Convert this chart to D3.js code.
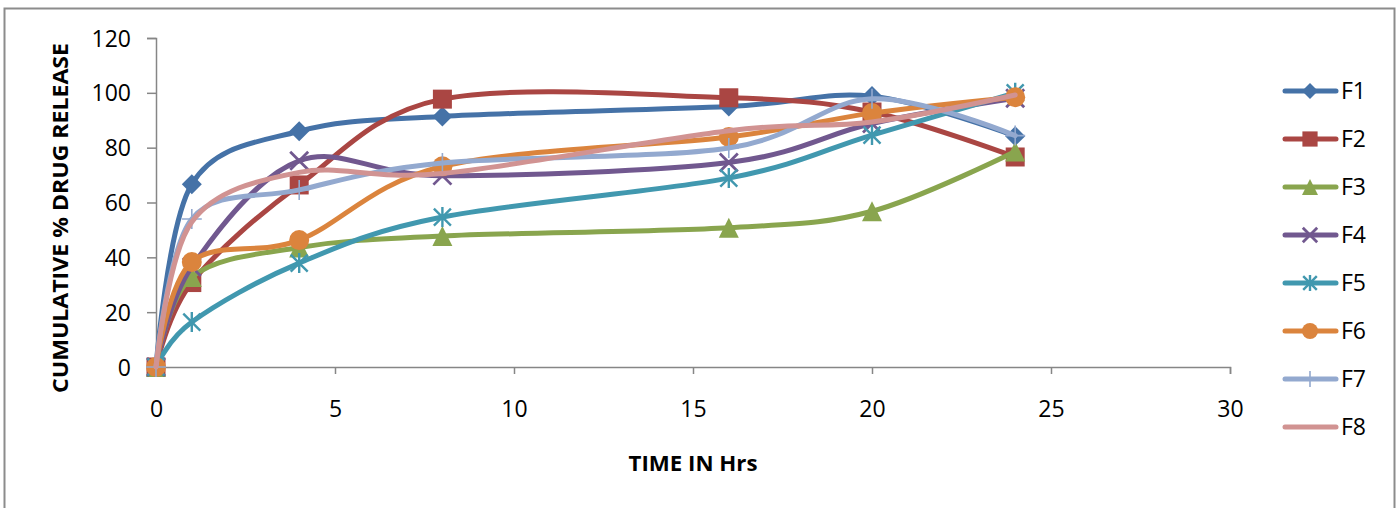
<!DOCTYPE html>
<html>
<head>
<meta charset="utf-8">
<script src="https://cdn.jsdelivr.net/npm/d3@7"></script>
<style>
  html, body { margin: 0; padding: 0; background: #fff; }
  svg { display: block; }
  text { font-family: "Open Sans", "Liberation Sans", sans-serif; fill: #000; }
</style>
</head>
<body>
<svg id="chart" width="1399" height="508"></svg>
<script>
// Sampling times (hours)
const times = [0, 1, 4, 8, 16, 20, 24];

// Cumulative % drug release per formulation
const seriesNames = ["F1", "F2", "F3", "F4", "F5", "F6", "F7", "F8"];
const F1 = [0, 66.7, 86.0, 91.4, 95.0, 98.8, 84.2];
const F2 = [0, 30.8, 66.4, 97.7, 98.2, 93.0, 76.6];
const F3 = [0, 32.8, 43.6, 47.8, 50.8, 56.8, 78.6];
const F4 = [0, 36.5, 75.2, 69.8, 74.6, 88.8, 98.0];
const F5 = [0, 16.4, 37.9, 54.7, 68.9, 84.6, 100.0];
const F6 = [0, 38.3, 46.3, 73.2, 83.9, 92.6, 98.4];
const F7 = [0, 54.0, 64.6, 74.4, 79.9, 97.8, 84.4];
const F8 = [0, 52.9, 71.0, 70.6, 86.2, 89.4, 99.2];
const seriesValues = [F1, F2, F3, F4, F5, F6, F7, F8];

// Axis ticks
const xTicks = [0, 5, 10, 15, 20, 25, 30];
const yTicks = [0, 20, 40, 60, 80, 100, 120];

const colors = ["#4572A7", "#AA4643", "#89A54E", "#71588F", "#4198AF", "#DB843D", "#93A9CF", "#D19392"];
const markers = ["diamond", "square", "triangle", "x", "star", "circle", "plus", "none"];

const svg = d3.select("#chart");

// Outer chart frame
svg.append("rect")
  .attr("x", 4.5).attr("y", 8.5)
  .attr("width", 1390).attr("height", 520)
  .attr("fill", "#fff").attr("stroke", "#8c8c8c").attr("stroke-width", 2);

const x = d3.scaleLinear().domain([0, 30]).range([156, 1230]);
const y = d3.scaleLinear().domain([0, 120]).range([367, 38]);

const axisColor = "#868686";

// Y axis
const yAxis = svg.append("g").attr("transform", `translate(${x(0)},0)`)
  .call(d3.axisLeft(y).tickValues(yTicks).tickSize(9).tickPadding(16).tickFormat(d3.format("d")));
yAxis.select(".domain").attr("stroke", axisColor).attr("stroke-width", 1.5);
yAxis.selectAll(".tick line").attr("stroke", axisColor).attr("stroke-width", 1.5);
yAxis.selectAll(".tick text").style("font-size", "23px").attr("dy", "0.35em");

// X axis
const xAxis = svg.append("g").attr("transform", `translate(0,${y(0)})`)
  .call(d3.axisBottom(x).tickValues(xTicks).tickSize(7).tickPadding(27).tickFormat(d3.format("d")));
xAxis.select(".domain").attr("stroke", axisColor).attr("stroke-width", 1.5);
xAxis.selectAll(".tick line").attr("stroke", axisColor).attr("stroke-width", 1.5);
xAxis.selectAll(".tick text").style("font-size", "23px");

// Axis titles
svg.append("text")
  .attr("transform", "translate(68,218) rotate(-90)")
  .attr("text-anchor", "middle")
  .attr("textLength", 350).attr("lengthAdjust", "spacingAndGlyphs")
  .style("font-size", "22px").style("font-weight", "bold")
  .text("CUMULATIVE % DRUG RELEASE");

svg.append("text")
  .attr("x", 693).attr("y", 471)
  .attr("text-anchor", "middle")
  .attr("textLength", 129).attr("lengthAdjust", "spacingAndGlyphs")
  .style("font-size", "22px").style("font-weight", "bold")
  .text("TIME IN Hrs");

// Marker drawing
function drawMarker(g, type, color, cx, cy, s) {
  const h = s / 2;
  switch (type) {
    case "diamond":
      g.append("path").attr("d", `M${cx},${cy - h}L${cx + h},${cy}L${cx},${cy + h}L${cx - h},${cy}Z`)
        .attr("fill", color);
      break;
    case "square":
      g.append("rect").attr("x", cx - h * 0.95).attr("y", cy - h * 0.95).attr("width", s * 0.95).attr("height", s * 0.95)
        .attr("fill", color);
      break;
    case "triangle":
      g.append("path").attr("d", `M${cx},${cy - h}L${cx + h},${cy + h}L${cx - h},${cy + h}Z`)
        .attr("fill", color);
      break;
    case "circle":
      g.append("circle").attr("cx", cx).attr("cy", cy).attr("r", h).attr("fill", color);
      break;
    case "x": {
      const k = h * 0.9;
      g.append("path").attr("d", `M${cx - k},${cy - k}L${cx + k},${cy + k}M${cx + k},${cy - k}L${cx - k},${cy + k}`)
        .attr("stroke", color).attr("stroke-width", 2.8).attr("fill", "none");
      break;
    }
    case "star": {
      const k = h * 0.85;
      g.append("path").attr("d", `M${cx - k},${cy - k}L${cx + k},${cy + k}M${cx + k},${cy - k}L${cx - k},${cy + k}M${cx},${cy - h}L${cx},${cy + h}`)
        .attr("stroke", color).attr("stroke-width", 2.4).attr("fill", "none");
      break;
    }
    case "plus":
      g.append("path").attr("d", `M${cx - h},${cy}L${cx + h},${cy}M${cx},${cy - h}L${cx},${cy + h}`)
        .attr("stroke", color).attr("stroke-width", 1.6).attr("fill", "none");
      break;
  }
}

const line = d3.line()
  .x(d => x(d[0]))
  .y(d => y(d[1]))
  .curve(d3.curveCardinal.tension(0));

// Series: smoothed line followed by its markers
seriesValues.forEach((vals, i) => {
  const pts = times.map((t, k) => [t, vals[k]]);
  const g = svg.append("g");
  g.append("path")
    .datum(pts)
    .attr("d", line)
    .attr("fill", "none")
    .attr("stroke", colors[i])
    .attr("stroke-width", 5)
    .attr("stroke-linecap", "round")
    .attr("stroke-linejoin", "round");
  pts.forEach(p => drawMarker(g, markers[i], colors[i], x(p[0]), y(p[1]), 20));
});

// Legend
const legend = svg.append("g");
seriesNames.forEach((name, i) => {
  const cy = 91 + i * 48;
  const g = legend.append("g");
  g.append("line")
    .attr("x1", 1285).attr("x2", 1336).attr("y1", cy).attr("y2", cy)
    .attr("stroke", colors[i]).attr("stroke-width", 5).attr("stroke-linecap", "round");
  drawMarker(g, markers[i], colors[i], 1310, cy, 16);
  g.append("text")
    .attr("x", 1341).attr("y", cy).attr("dy", "0.36em")
    .style("font-size", "23px")
    .text(name);
});
</script>
</body>
</html>
